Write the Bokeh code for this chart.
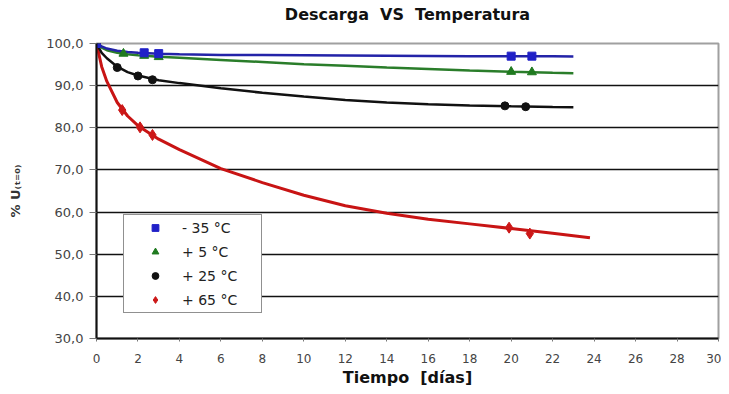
from bokeh.plotting import figure
from bokeh.models import Legend, LegendItem, FixedTicker, Range1d, CustomJSTickFormatter, Title
from bokeh.embed import file_html
from bokeh.resources import INLINE

# ---- data ----
dias_m35 = [0, 2.3, 3.0, 20.0, 21.0]
u_m35 = [100, 97.8, 97.6, 97.0, 97.0]
dias_p5 = [0, 1.3, 2.3, 3.0, 20.0, 21.0]
u_p5 = [100, 97.6, 97.1, 96.8, 93.3, 93.2]
dias_p25 = [0, 1.0, 2.0, 2.7, 19.7, 20.7]
u_p25 = [100, 94.3, 92.3, 91.4, 85.2, 85.0]
dias_p65 = [0, 1.24, 2.1, 2.7, 19.9, 20.9]
u_p65 = [100, 84.2, 80.1, 78.3, 56.3, 54.9]

# trend lines
trend_dias = [0, 0.25, 0.5, 1, 1.5, 2, 3, 4, 6, 8, 10, 12, 14, 16, 18, 20, 22, 23]
trend_m35 = [100, 99.3, 98.8, 98.3, 98.0, 97.8, 97.55, 97.45, 97.3, 97.25, 97.2, 97.15, 97.1, 97.05, 97.0, 97.0, 96.95, 96.9]
trend_p5 = [100, 99.0, 98.4, 97.8, 97.45, 97.2, 96.85, 96.6, 96.1, 95.6, 95.1, 94.7, 94.3, 93.95, 93.6, 93.3, 93.05, 92.95]
trend_p25 = [100, 97.8, 96.5, 94.5, 93.2, 92.4, 91.3, 90.6, 89.4, 88.3, 87.4, 86.6, 86.0, 85.6, 85.3, 85.1, 84.95, 84.9]
trend_dias_p65 = [0, 0.25, 0.5, 1, 1.5, 2, 3, 4, 6, 8, 10, 12, 14, 16, 18, 20, 22, 23.8]
trend_p65 = [100, 94.5, 91.0, 86.0, 82.8, 80.5, 77.3, 74.8, 70.3, 67.0, 64.0, 61.5, 59.7, 58.3, 57.2, 56.1, 55.0, 53.9]

series_labels = ["- 35 \u00b0C", "+ 5 \u00b0C", "+ 25 \u00b0C", "+ 65 \u00b0C"]
x_ticks = list(range(0, 31, 2))
y_ticks = [30, 40, 50, 60, 70, 80, 90, 100]
grid_ticks = [40, 50, 60, 70, 80, 90]

p = figure(width=721, height=392, output_backend="svg", toolbar_location=None,
           x_range=Range1d(0, 30), y_range=Range1d(30, 100),
           min_border_left=96, min_border_right=3, min_border_top=43, min_border_bottom=54)
p.title.text = "Descarga \u00a0VS \u00a0Temperatura"
p.title.align = "center"
p.title.text_font = "DejaVu Sans"
p.title.text_font_size = "16px"
p.title.text_font_style = "bold"
p.title.text_color = "#111111"
p.title.standoff = 2
# spacer between title and frame
p.add_layout(Title(text=" ", text_font_size="1px", standoff=16), "above")

p.background_fill_color = "white"
p.border_fill_color = "white"
p.outline_line_color = "#a0a0a0"
p.outline_line_width = 2

p.xgrid.visible = False
p.ygrid.ticker = FixedTicker(ticks=grid_ticks)
p.ygrid.grid_line_color = "#111111"
p.ygrid.grid_line_width = 1.5

p.xaxis.ticker = FixedTicker(ticks=x_ticks)
p.yaxis.ticker = FixedTicker(ticks=y_ticks)
p.yaxis.formatter = CustomJSTickFormatter(code="return tick.toFixed(1).replace('.', ',');")
for ax in (p.xaxis, p.yaxis):
    ax.axis_line_color = "#111111"
    ax.axis_line_width = 2
    ax.major_tick_line_color = "#777777"
    ax.major_tick_in = 0
    ax.minor_tick_line_color = None
    ax.major_label_text_font = "DejaVu Sans"
    ax.major_label_text_color = "#444444"
p.xaxis.major_label_text_font_size = "12px"
p.yaxis.major_label_text_font_size = "13px"
p.xaxis.major_tick_out = 3
p.yaxis.major_tick_out = 7
p.xaxis.major_label_standoff = 12
p.yaxis.major_label_standoff = 6

p.xaxis.axis_label = "Tiempo \u00a0[d\u00edas]"
p.xaxis.axis_label_text_font = "DejaVu Sans"
p.xaxis.axis_label_text_font_size = "16px"
p.xaxis.axis_label_text_font_style = "bold"
p.xaxis.axis_label_text_color = "#111111"
p.xaxis.axis_label_standoff = 2

p.yaxis.axis_label = "% U\u208d\u209c\u208c\u2080\u208e"
p.yaxis.axis_label_text_font = "DejaVu Sans"
p.yaxis.axis_label_text_font_size = "13px"
p.yaxis.axis_label_text_font_style = "bold"
p.yaxis.axis_label_text_color = "#333333"
p.yaxis.axis_label_standoff = 20

# trend lines
p.line(trend_dias_p65, trend_p65, line_color="#c81414", line_width=3)
p.line(trend_dias, trend_p25, line_color="#111111", line_width=2.5)
p.line(trend_dias, trend_p5, line_color="#2a7d2a", line_width=2.5)
p.line(trend_dias, trend_m35, line_color="#2323a8", line_width=2.5)

# markers
r65 = p.scatter(dias_p65, u_p65, marker="diamond", size=11, color="#cc1818")
r25 = p.scatter(dias_p25, u_p25, marker="circle", size=8, color="#111111")
r5 = p.scatter(dias_p5, u_p5, marker="triangle", size=9, color="#1f7a1f")
rm35 = p.scatter(dias_m35, u_m35, marker="square", size=8, color="#2020c8")

legend = Legend(items=[LegendItem(label=series_labels[0], renderers=[rm35]),
                       LegendItem(label=series_labels[1], renderers=[r5]),
                       LegendItem(label=series_labels[2], renderers=[r25]),
                       LegendItem(label=series_labels[3], renderers=[r65])],
                location=(27, 25), padding=4, glyph_width=54, glyph_height=17,
                label_height=17, spacing=7, label_standoff=0, label_width=75,
                label_text_font="DejaVu Sans", label_text_font_size="14px",
                label_text_color="#222222",
                border_line_color="#222222", border_line_width=1.5,
                background_fill_color="white", background_fill_alpha=1)
p.add_layout(legend, "center")

open("out.html", "w").write(file_html(p, INLINE))
